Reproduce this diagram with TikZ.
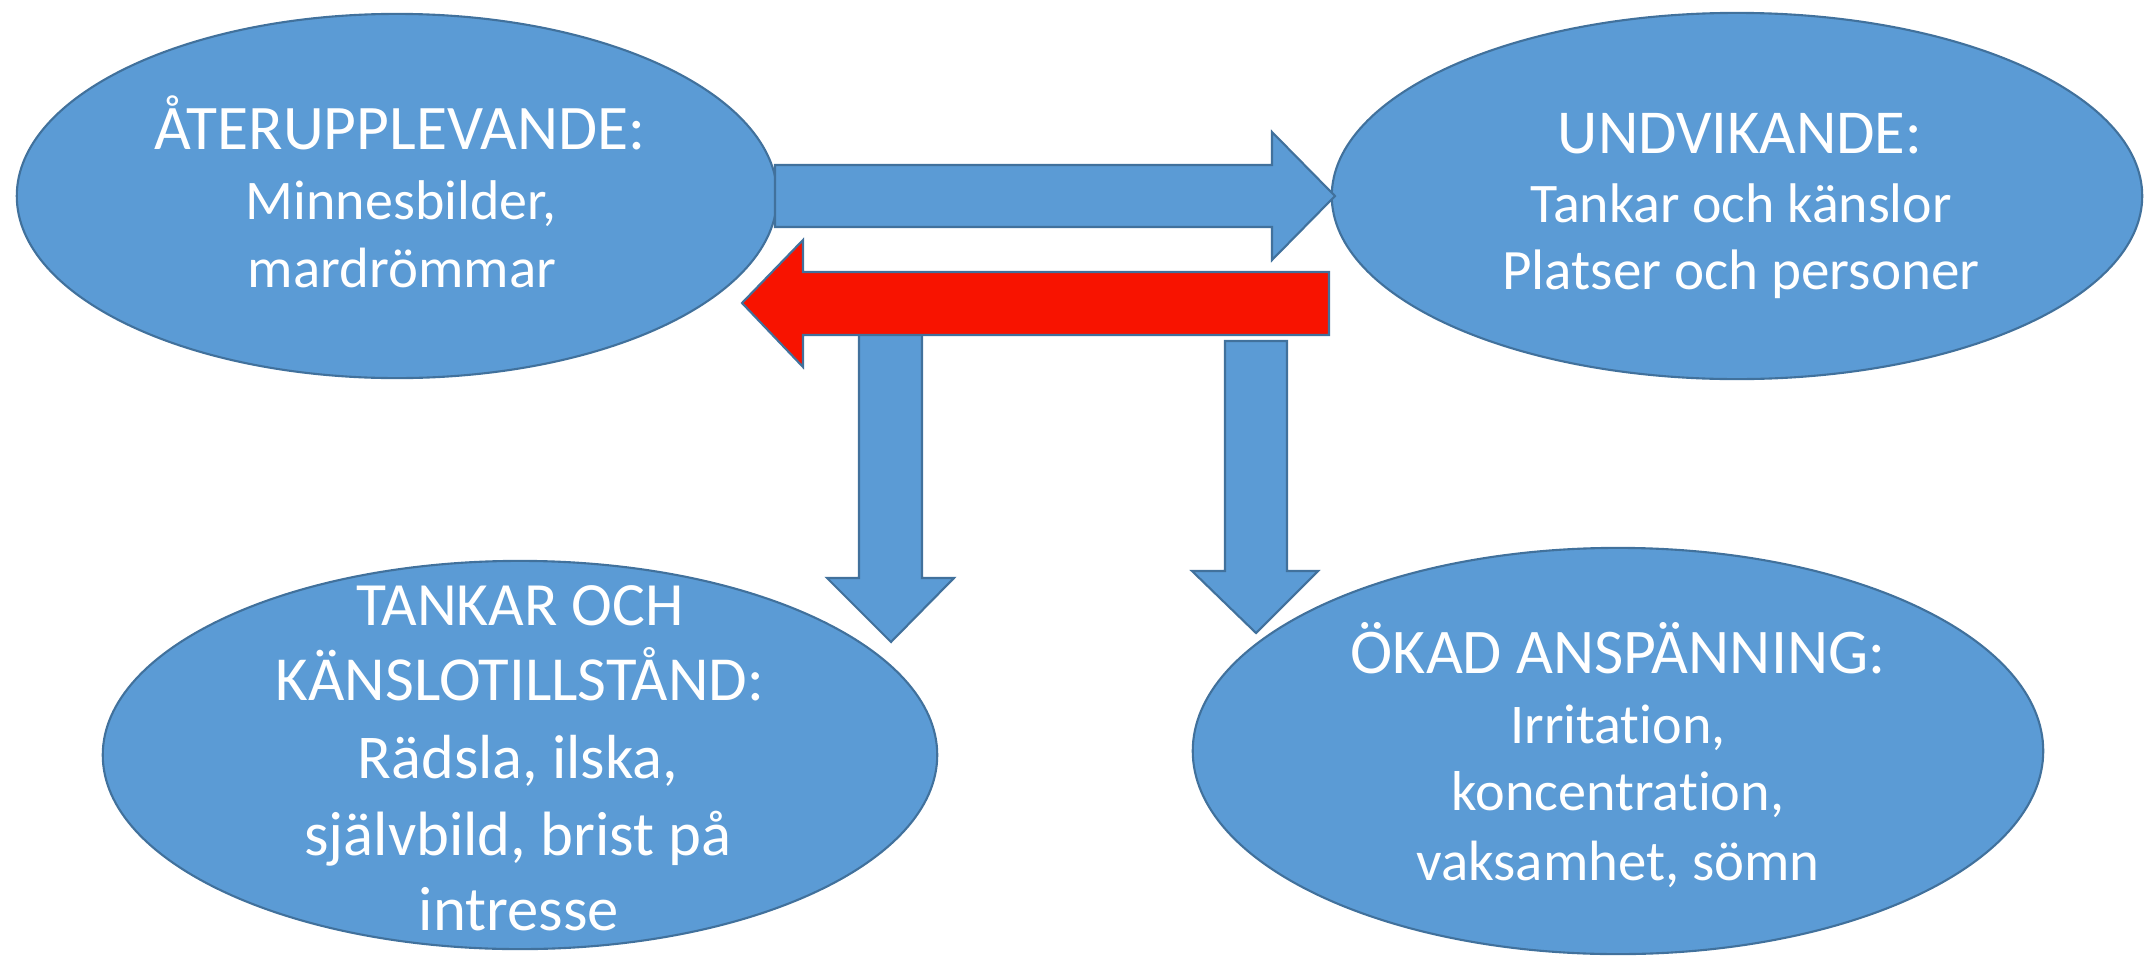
\documentclass[tikz,border=0pt]{standalone}
\usepackage{fontspec}
\usepackage{graphicx}
\setmainfont{Carlito}[Ligatures=NoCommon]
\usetikzlibrary{shapes.geometric}
\definecolor{ofblue}{HTML}{5B9BD5}
\definecolor{ofline}{HTML}{41719C}
\definecolor{ofred}{HTML}{F81300}
\newcommand{\fitw}[2]{\resizebox{#1}{!}{#2}}
\begin{document}
\begin{tikzpicture}[x=0.01cm,y=-0.01cm,
  ell/.style={draw=ofline,fill=ofblue,line width=0.6pt,ellipse,inner sep=0pt},
  blockarrow/.style={draw=ofline,fill=ofblue,line width=0.6pt,line join=miter},
  redarrow/.style={draw=ofline,fill=ofred,line width=0.6pt,line join=miter},
  txt/.style={text=white,inner sep=0pt,anchor=base,font=\fontsize{17}{20}\selectfont}
]
\useasboundingbox (0,0) rectangle (2144,957);
% ellipses
\node[ell,minimum width=7.6cm,minimum height=3.64cm] (e1) at (397,196) {};
\node[ell,minimum width=8.1cm,minimum height=3.66cm] (e2) at (1737,196) {};
\node[ell,minimum width=8.34cm,minimum height=3.88cm] (e3) at (520,755) {};
\node[ell,minimum width=8.5cm,minimum height=4.06cm] (e4) at (1618,751) {};
% arrows
\coordinate (a1t) at (1335,196);
\draw[blockarrow] (775,165) -- (1272,165) -- (1272,132) -- (a1t) -- (1272,260) -- (1272,227) -- (775,227) -- cycle;
\coordinate (d1t) at (891,642);
\draw[blockarrow] (859,320) -- (922,320) -- (922,578) -- (954,578) -- (d1t) -- (827,578) -- (859,578) -- cycle;
\coordinate (d2t) at (1256,633);
\draw[blockarrow] (1225,341) -- (1287,341) -- (1287,571) -- (1318,571) -- (d2t) -- (1192,571) -- (1225,571) -- cycle;
\coordinate (rt) at (742,303);
\draw[redarrow] (1329,272) -- (803,272) -- (803,240) -- (rt) -- (803,367) -- (803,335) -- (1329,335) -- cycle;
% texts: ellipse 1
\node[txt] (t1a) at (400,149) {\fitw{4.9cm}{ÅTERUPPLEVANDE:}};
\node[txt] (t1b) at (401,219) {\fitw{3.1cm}{Minnesbilder,}};
\node[txt] (t1c) at (402,287) {\fitw{3.08cm}{mardrömmar}};
% ellipse 2
\node[txt] (t2a) at (1740,153) {\fitw{3.64cm}{UNDVIKANDE:}};
\node[txt] (t2b) at (1741,222) {\fitw{4.21cm}{Tankar och känslor}};
\node[txt] (t2c) at (1741,289) {\fitw{4.77cm}{Platser och personer}};
% ellipse 3
\node[txt] (t3a) at (520,625) {\fitw{3.27cm}{TANKAR OCH}};
\node[txt] (t3b) at (520,700) {\fitw{4.88cm}{KÄNSLOTILLSTÅND:}};
\node[txt] (t3c) at (518,778) {\fitw{3.2cm}{Rädsla, ilska,}};
\node[txt] (t3d) at (518,855) {\fitw{4.27cm}{självbild, brist på}};
\node[txt] (t3e) at (519,930) {\fitw{2.0cm}{intresse}};
% ellipse 4
\node[txt] (t4a) at (1618,673) {\fitw{5.34cm}{ÖKAD ANSPÄNNING:}};
\node[txt] (t4b) at (1618,743) {\fitw{2.15cm}{Irritation,}};
\node[txt] (t4c) at (1618,810) {\fitw{3.32cm}{koncentration,}};
\node[txt] (t4d) at (1618,880) {\fitw{4.03cm}{vaksamhet, sömn}};
\end{tikzpicture}
\end{document}
